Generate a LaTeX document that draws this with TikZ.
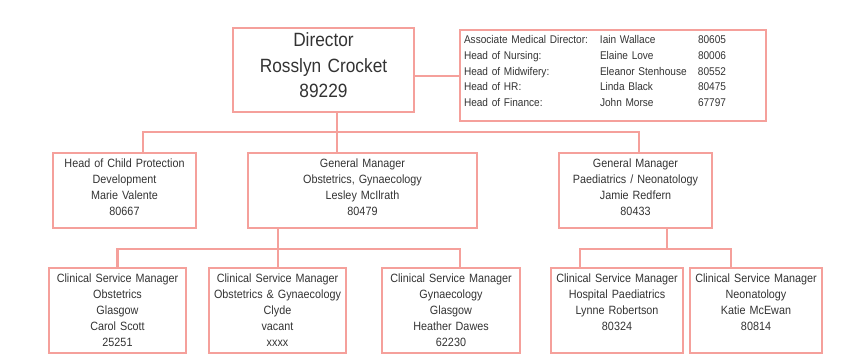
\documentclass[tikz,border=0pt]{standalone}
\usepackage{fontspec}
\setmainfont{Liberation Sans}[FakeStretch=0.9]
\usepackage{xcolor}
\usepackage{tikz}
\usetikzlibrary{positioning}
\definecolor{orgline}{RGB}{245,160,155}
\definecolor{orgtext}{RGB}{51,51,51}

\begin{document}
\begin{tikzpicture}[x=1pt, y=-1pt, text=orgtext,
	post/.style={draw=orgline, line width=2.2pt, align=center, outer sep=0pt, inner xsep=2pt, inner ysep=4pt},
	head/.style={post, font=\fontsize{19.2}{25.5}\selectfont, text width=177pt, text height=15pt, text depth=61pt},
	lead/.style={post, font=\fontsize{12}{16}\selectfont, text height=10.3pt, text depth=56.7pt},
	csm/.style={post, font=\fontsize{12}{16}\selectfont, text height=10pt, text depth=67pt},
	link/.style={draw=orgline, line width=2.2pt}]
		\useasboundingbox (0,0) rectangle (850,361);
		\node[head] (dir) at (323.5,70) {Director\\Rosslyn Crocket\\89229};
		\node[post, anchor=north west, text width=298pt, align=left, inner xsep=4pt, text height=9.5pt, text depth=73.5pt, font=\fontsize{11.2}{15.8}\selectfont] (staff) at (460,30) {%
			\begin{tabular}[t]{@{}p{136pt}@{}p{98pt}@{}l@{}}
				Associate Medical Director: & Iain Wallace & 80605\\
				Head of Nursing: & Elaine Love & 80006\\
				Head of Midwifery: & Eleanor Stenhouse & 80552\\
				Head of HR: & Linda Black & 80475\\
				Head of Finance: & John Morse & 67797
			\end{tabular}};
		\node[lead, text width=139pt] (hcp) at (124.5,190.5) {Head of Child Protection\\Development\\Marie Valente\\80667};
		\node[lead, text width=225pt, right=52pt of hcp] (gmo) {General Manager\\Obstetrics, Gynaecology\\Lesley McIlrath\\80479};
		\node[lead, text width=149pt, right=82pt of gmo] (gmp) {General Manager\\Paediatrics / Neonatology\\Jamie Redfern\\80433};
		\node[csm, text width=133pt] (obsg) at (117.5,310.5) {Clinical Service Manager\\Obstetrics\\Glasgow\\Carol Scott\\25251};
		\node[csm, text width=133pt, right=23pt of obsg] (obsc) {Clinical Service Manager\\Obstetrics \& Gynaecology\\Clyde\\vacant\\xxxx};
		\node[csm, text width=134pt, right=36pt of obsc] (gyng) {Clinical Service Manager\\Gynaecology\\Glasgow\\Heather Dawes\\62230};
		\node[csm, text width=128pt, right=31pt of gyng] (hosp) {Clinical Service Manager\\Hospital Paediatrics\\Lynne Robertson\\80324};
		\node[csm, text width=128pt, right=7pt of hosp] (neo) {Clinical Service Manager\\Neonatology\\Katie McEwan\\80814};
		\coordinate (topbar) at (337,132);
		\coordinate (obsbar) at (278,249);
		\coordinate (paedbar) at (667,249);
		\draw[link] (staff.west |- 0,76) -- (dir.east |- 0,76);
		\draw[link] ([xshift=13.5pt]dir.south) -- (gmo.north -| topbar);
		\draw[link] ([xshift=18.5pt]hcp.north) |- (topbar) -| ([xshift=3.5pt]gmp.north);
		\draw[link] (gmo.south -| obsbar) -- (obsc.north -| obsbar);
		\draw[link] (obsg.north) |- (obsbar) -| ([xshift=9pt]gyng.north);
		\draw[link] ([xshift=31.5pt]gmp.south) -- (paedbar);
		\draw[link] ([xshift=-37pt]hosp.north) |- (paedbar) -| ([xshift=-25pt]neo.north);
	\end{tikzpicture}
\end{document}
